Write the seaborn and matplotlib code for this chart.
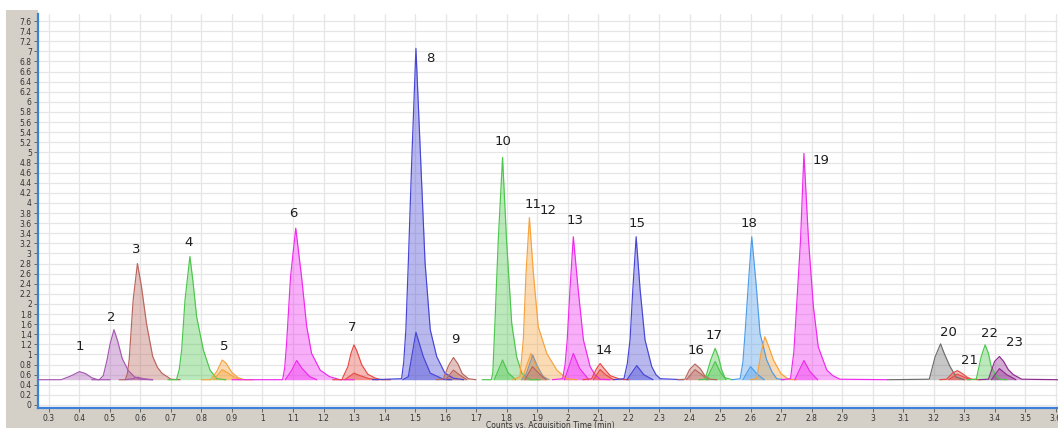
import matplotlib
matplotlib.use("Agg")
import matplotlib.pyplot as plt
from matplotlib.patches import Rectangle
from matplotlib.ticker import MultipleLocator, FuncFormatter
import pandas as pd
import seaborn as sns

# ---- chromatogram vertices: acquisition time (min) and counts ----
# quantifier traces (q..) and qualifier traces (r..) per compound
q01_t = [0.264, 0.34, 0.37, 0.40, 0.42, 0.44, 0.46, 0.50]
q01_y = [0.50, 0.50, 0.57, 0.66, 0.62, 0.54, 0.50, 0.50]

q02_t = [0.44, 0.465, 0.478, 0.49, 0.50, 0.513, 0.525, 0.54, 0.56, 0.58, 0.60, 0.64]
q02_y = [0.50, 0.50, 0.58, 0.88, 1.20, 1.49, 1.27, 0.92, 0.68, 0.56, 0.51, 0.50]
r02_t = [0.55, 0.575, 0.59, 0.61, 0.64]
r02_y = [0.50, 0.52, 0.55, 0.52, 0.50]

q03_t = [0.53, 0.55, 0.557, 0.563, 0.576, 0.59, 0.603, 0.62, 0.64, 0.655, 0.67, 0.70, 0.73]
q03_y = [0.50, 0.50, 0.62, 0.90, 2.08, 2.80, 2.35, 1.60, 0.96, 0.75, 0.63, 0.51, 0.50]

q04_t = [0.69, 0.718, 0.727, 0.735, 0.746, 0.762, 0.772, 0.784, 0.806, 0.828, 0.85, 0.88]
q04_y = [0.50, 0.50, 0.70, 1.09, 2.08, 2.94, 2.45, 1.75, 1.09, 0.69, 0.52, 0.50]

q05_t = [0.80, 0.83, 0.85, 0.868, 0.88, 0.90, 0.92, 0.94, 0.97]
q05_y = [0.50, 0.50, 0.66, 0.89, 0.83, 0.64, 0.54, 0.50, 0.50]
r05_t = [0.84, 0.868, 0.885, 0.91, 0.93]
r05_y = [0.50, 0.70, 0.64, 0.54, 0.50]

q06_t = [0.90, 1.066, 1.073, 1.079, 1.092, 1.109, 1.128, 1.145, 1.161, 1.189, 1.22, 1.254, 1.30]
q06_y = [0.50, 0.50, 0.75, 1.22, 2.54, 3.50, 2.54, 1.55, 1.02, 0.69, 0.56, 0.50, 0.50]
r06_t = [1.075, 1.095, 1.112, 1.13, 1.155, 1.178]
r06_y = [0.50, 0.68, 0.88, 0.72, 0.56, 0.50]

q07_t = [1.23, 1.26, 1.28, 1.29, 1.30, 1.31, 1.325, 1.345, 1.37, 1.39, 1.42]
q07_y = [0.50, 0.50, 0.76, 1.02, 1.19, 1.06, 0.80, 0.61, 0.53, 0.50, 0.50]
r07_t = [1.27, 1.30, 1.32, 1.35, 1.38]
r07_y = [0.50, 0.63, 0.58, 0.52, 0.50]

q08_t = [1.36, 1.456, 1.463, 1.47, 1.478, 1.489, 1.503, 1.519, 1.533, 1.55,
         1.571, 1.598, 1.626, 1.66]
q08_y = [0.50, 0.52, 0.85, 1.49, 2.81, 4.79, 7.06, 4.79, 2.81, 1.49,
         0.96, 0.63, 0.53, 0.50]
r08_t = [1.46, 1.478, 1.503, 1.527, 1.55, 1.593, 1.62]
r08_y = [0.50, 0.56, 1.44, 0.96, 0.63, 0.51, 0.50]

q09_t = [1.57, 1.593, 1.61, 1.626, 1.64, 1.655, 1.675, 1.70]
q09_y = [0.50, 0.52, 0.78, 0.94, 0.82, 0.62, 0.52, 0.50]
r09_t = [1.60, 1.626, 1.645, 1.67]
r09_y = [0.50, 0.69, 0.60, 0.50]

q10_t = [1.72, 1.75, 1.755, 1.762, 1.773, 1.787, 1.80, 1.817, 1.833, 1.85, 1.877, 1.91]
q10_y = [0.50, 0.50, 0.63, 1.62, 3.27, 4.90, 3.27, 1.62, 0.96, 0.63, 0.50, 0.50]
r10_t = [1.76, 1.787, 1.805, 1.83]
r10_y = [0.50, 0.89, 0.64, 0.50]

q11_t = [1.82, 1.844, 1.855, 1.864, 1.875, 1.888, 1.904, 1.932, 1.965, 1.997, 2.03]
q11_y = [0.50, 0.56, 1.29, 2.61, 3.71, 2.61, 1.55, 1.02, 0.69, 0.52, 0.50]
r11_t = [1.85, 1.88, 1.90, 1.93]
r11_y = [0.50, 1.02, 0.72, 0.50]

q12_t = [1.85, 1.865, 1.886, 1.90, 1.92, 1.94]
q12_y = [0.50, 0.62, 0.99, 0.78, 0.56, 0.50]
r12_t = [1.86, 1.885, 1.91, 1.93]
r12_y = [0.50, 0.76, 0.60, 0.50]

q13_t = [1.95, 1.984, 1.992, 1.999, 2.008, 2.019, 2.035, 2.052, 2.074, 2.09, 2.107, 2.14]
q13_y = [0.50, 0.52, 0.80, 1.29, 2.28, 3.33, 2.28, 1.29, 0.76, 0.60, 0.51, 0.50]
r13_t = [1.99, 2.019, 2.04, 2.07]
r13_y = [0.50, 1.02, 0.72, 0.50]

q14_t = [2.05, 2.079, 2.095, 2.107, 2.12, 2.14, 2.172, 2.20]
q14_y = [0.50, 0.52, 0.72, 0.82, 0.72, 0.58, 0.51, 0.50]
r14_t = [2.085, 2.107, 2.125, 2.15]
r14_y = [0.50, 0.70, 0.60, 0.50]

q15_t = [2.15, 2.185, 2.196, 2.205, 2.214, 2.225, 2.238, 2.254, 2.276, 2.29, 2.304, 2.38]
q15_y = [0.50, 0.52, 0.82, 1.29, 2.28, 3.33, 2.28, 1.29, 0.76, 0.60, 0.52, 0.50]
r15_t = [2.195, 2.227, 2.25, 2.28]
r15_y = [0.50, 0.78, 0.60, 0.50]

q16_t = [2.36, 2.385, 2.40, 2.418, 2.435, 2.45, 2.467, 2.49]
q16_y = [0.50, 0.51, 0.70, 0.81, 0.72, 0.58, 0.51, 0.50]
r16_t = [2.39, 2.418, 2.44, 2.46]
r16_y = [0.50, 0.70, 0.60, 0.50]

q17_t = [2.43, 2.451, 2.47, 2.484, 2.495, 2.505, 2.516, 2.54]
q17_y = [0.50, 0.51, 0.90, 1.12, 0.95, 0.70, 0.54, 0.50]
r17_t = [2.455, 2.484, 2.50, 2.52]
r17_y = [0.50, 0.86, 0.66, 0.50]

q18_t = [2.54, 2.566, 2.575, 2.582, 2.593, 2.604, 2.618, 2.631, 2.653, 2.67, 2.686, 2.71]
q18_y = [0.50, 0.52, 0.85, 1.42, 2.41, 3.33, 2.41, 1.42, 0.89, 0.66, 0.52, 0.50]
r18_t = [2.575, 2.60, 2.62, 2.645]
r18_y = [0.50, 0.76, 0.62, 0.50]
# co-eluting orange trace next to compound 18
s18_t = [2.60, 2.62, 2.635, 2.647, 2.66, 2.675, 2.70, 2.724, 2.75]
s18_y = [0.50, 0.52, 1.05, 1.35, 1.15, 0.89, 0.62, 0.51, 0.50]

q19_t = [2.70, 2.731, 2.742, 2.751, 2.764, 2.775, 2.79, 2.806, 2.822, 2.85, 2.87, 2.893, 3.05]
q19_y = [0.50, 0.52, 1.05, 1.95, 3.27, 4.98, 3.27, 1.95, 1.15, 0.69, 0.58, 0.51, 0.50]
r19_t = [2.745, 2.775, 2.795, 2.82]
r19_y = [0.50, 0.88, 0.66, 0.50]

q20_t = [3.05, 3.186, 3.205, 3.223, 3.235, 3.254, 3.275, 3.30]
q20_y = [0.50, 0.51, 0.95, 1.21, 1.02, 0.76, 0.55, 0.50]

q21_t = [3.22, 3.243, 3.262, 3.278, 3.295, 3.31, 3.325, 3.35]
q21_y = [0.50, 0.51, 0.63, 0.68, 0.62, 0.55, 0.51, 0.50]
r21_t = [3.25, 3.278, 3.30, 3.32]
r21_y = [0.50, 0.61, 0.55, 0.50]

q22_t = [3.31, 3.34, 3.356, 3.369, 3.38, 3.389, 3.405, 3.418, 3.44]
q22_y = [0.50, 0.51, 0.95, 1.19, 1.02, 0.76, 0.58, 0.51, 0.50]

q23_t = [3.35, 3.38, 3.40, 3.416, 3.43, 3.445, 3.462, 3.489, 3.608]
q23_y = [0.50, 0.51, 0.86, 0.96, 0.86, 0.70, 0.60, 0.51, 0.50]
r23_t = [3.39, 3.416, 3.44, 3.47]
r23_y = [0.50, 0.72, 0.60, 0.50]

# compound numbers and where they are written
peak_ids = [str(i) for i in range(1, 24)]
label_t = [0.402, 0.503, 0.585, 0.759, 0.875, 1.100, 1.293, 1.551, 1.631, 1.788,
           1.888, 1.935, 2.025, 2.121, 2.227, 2.421, 2.481, 2.596, 2.830, 3.249,
           3.317, 3.385, 3.464]
label_y = [1.15, 1.73, 3.07, 3.21, 1.15, 3.80, 1.54, 6.85, 1.29, 5.21,
           3.96, 3.84, 3.65, 1.08, 3.60, 1.08, 1.37, 3.60, 4.84, 1.44,
           0.89, 1.42, 1.23]

# ---- trace colours ----
PLUM, ROSY, GREEN, ORANGE = "#A558B2", "#B8665E", "#4CC64C", "#F7A23A"
MAGENTA, RED, BLUE, STEEL = "#EE2AEE", "#E84A44", "#4646D6", "#8797AE"
SKY, GRAY, PURPLE = "#4E9DEA", "#6E6E6E", "#8E2C8E"

traces = [
    ("q01", PLUM, q01_t, q01_y), ("q02", PLUM, q02_t, q02_y), ("r02", PLUM, r02_t, r02_y),
    ("q03", ROSY, q03_t, q03_y), ("q04", GREEN, q04_t, q04_y),
    ("q05", ORANGE, q05_t, q05_y), ("r05", ORANGE, r05_t, r05_y),
    ("q06", MAGENTA, q06_t, q06_y), ("r06", MAGENTA, r06_t, r06_y),
    ("q07", RED, q07_t, q07_y), ("r07", RED, r07_t, r07_y),
    ("q08", BLUE, q08_t, q08_y), ("r08", BLUE, r08_t, r08_y),
    ("q09", ROSY, q09_t, q09_y), ("r09", ROSY, r09_t, r09_y),
    ("q10", GREEN, q10_t, q10_y), ("r10", GREEN, r10_t, r10_y),
    ("q11", ORANGE, q11_t, q11_y), ("r11", ORANGE, r11_t, r11_y),
    ("q12", STEEL, q12_t, q12_y), ("r12", ROSY, r12_t, r12_y),
    ("q13", MAGENTA, q13_t, q13_y), ("r13", MAGENTA, r13_t, r13_y),
    ("q14", RED, q14_t, q14_y), ("r14", RED, r14_t, r14_y),
    ("q15", BLUE, q15_t, q15_y), ("r15", BLUE, r15_t, r15_y),
    ("q16", ROSY, q16_t, q16_y), ("r16", ROSY, r16_t, r16_y),
    ("q17", GREEN, q17_t, q17_y), ("r17", GREEN, r17_t, r17_y),
    ("q18", SKY, q18_t, q18_y), ("r18", SKY, r18_t, r18_y),
    ("s18", ORANGE, s18_t, s18_y),
    ("q19", MAGENTA, q19_t, q19_y), ("r19", MAGENTA, r19_t, r19_y),
    ("q20", GRAY, q20_t, q20_y),
    ("q21", RED, q21_t, q21_y), ("r21", RED, r21_t, r21_y),
    ("q22", GREEN, q22_t, q22_y),
    ("q23", PURPLE, q23_t, q23_y), ("r23", PURPLE, r23_t, r23_y),
]

rows = []
for name, _, ts, ys in traces:
    for t, y in zip(ts, ys):
        rows.append({"trace": name, "time": t, "counts": y})
df = pd.DataFrame(rows)
palette = {name: col for name, col, _, _ in traces}
BASELINE = 0.5

sns.set_theme(style="white")
plt.rcParams["font.family"] = ["DejaVu Sans"]

W, H = 1058, 428
fig = plt.figure(figsize=(W / 100, H / 100), dpi=100)
fig.patch.set_facecolor("white")

# window-style gray frame around the plotting area
frame = "#D4D0C8"
fig.add_artist(Rectangle((6 / W, 0), 32 / W, 418 / H, transform=fig.transFigure,
                         facecolor=frame, edgecolor="none", zorder=0))
fig.add_artist(Rectangle((6 / W, 0), (W - 6) / W, 20 / H, transform=fig.transFigure,
                         facecolor=frame, edgecolor="none", zorder=0))

ax = fig.add_axes([38 / W, 20 / H, (W - 38) / W, 394 / H])
ax.set_facecolor("white")

# filled areas under every trace
for name, col, ts, ys in traces:
    ax.fill_between(ts, BASELINE, ys, color=col, alpha=0.38, linewidth=0, zorder=2)

sns.lineplot(data=df, x="time", y="counts", hue="trace", palette=palette,
             units="trace", estimator=None, sort=False, legend=False,
             linewidth=0.85, ax=ax, zorder=3)

for pid, tx, ty in zip(peak_ids, label_t, label_y):
    ax.text(tx, ty, pid, ha="center", va="center", fontsize=9.5,
            color="#1E1E1E", zorder=5)

ax.set_xlim(0.264, 3.608)
ax.set_ylim(-0.06, 7.74)
ax.xaxis.set_major_locator(MultipleLocator(0.1))
ax.yaxis.set_major_locator(MultipleLocator(0.2))
fmt = FuncFormatter(lambda v, p: "0" if abs(v) < 1e-9 else f"{round(v, 2):g}")
ax.xaxis.set_major_formatter(fmt)
ax.yaxis.set_major_formatter(fmt)
ax.grid(True, color="#E6E6E6", linewidth=0.9)
ax.set_axisbelow(True)

for side in ("top", "right"):
    ax.spines[side].set_visible(False)
for side in ("left", "bottom"):
    ax.spines[side].set_color("#3D80D9")
    ax.spines[side].set_linewidth(1.6)

ax.tick_params(axis="both", which="major", direction="out", length=3, width=0.6,
               color="#555555", labelsize=5.5, labelcolor="#333333", pad=1.5,
               left=True, bottom=True)
ax.set_xlabel("")
ax.set_ylabel("")

fig.text(550 / W, 6.5 / H, "Counts vs. Acquisition Time (min)", ha="center", va="top",
         fontsize=5.5, color="#333333")

fig.savefig("out.png", dpi=100)
